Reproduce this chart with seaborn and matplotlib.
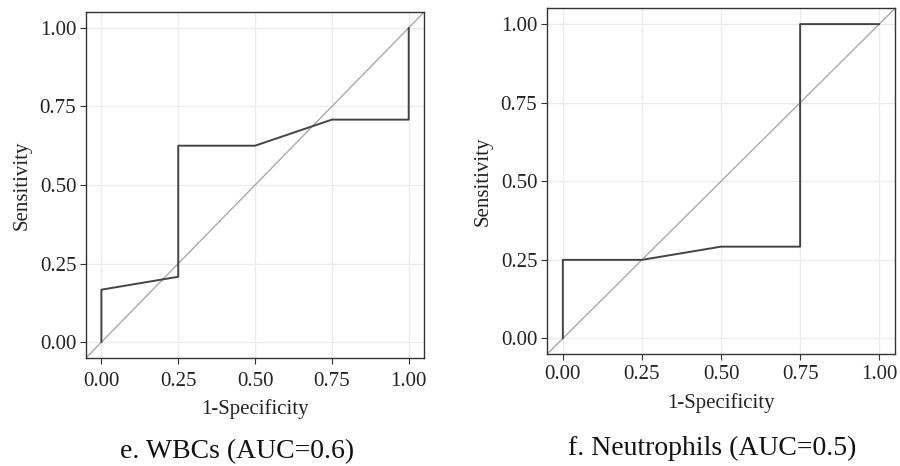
import numpy as np
import pandas as pd
import matplotlib.pyplot as plt
import seaborn as sns

# ROC curve points
wbc_fpr = [0.0, 0.0, 0.25, 0.25, 0.50, 0.75, 1.00, 1.00]
wbc_tpr = [0.0, 0.167, 0.208, 0.625, 0.625, 0.708, 0.708, 1.00]

neu_fpr = [0.0, 0.0, 0.25, 0.50, 0.75, 0.75, 1.00]
neu_tpr = [0.0, 0.25, 0.25, 0.292, 0.292, 1.00, 1.00]

ticks = [0.0, 0.25, 0.5, 0.75, 1.0]
tick_labels = ['0.00', '0.25', '0.50', '0.75', '1.00']
captions = ['e. WBCs (AUC=0.6)', 'f. Neutrophils (AUC=0.5)']

sns.set_theme(style="whitegrid")
plt.rcParams['font.family'] = ['Liberation Serif', 'DejaVu Serif']

fig = plt.figure(figsize=(9, 4.66), dpi=100)
ax1 = fig.add_axes([0.0956, 0.232, 0.3756, 0.742])
ax2 = fig.add_axes([0.6078, 0.240, 0.3867, 0.742])

panels = [(ax1, wbc_fpr, wbc_tpr, 6), (ax2, neu_fpr, neu_tpr, 4)]
for ax, fpr, tpr, pad in panels:
    df = pd.DataFrame({'fpr': fpr, 'tpr': tpr})
    lim = [-0.05, 1.05]
    ax.plot(lim, lim, color='#aaaaaa', linewidth=1.0, zorder=2)
    sns.lineplot(data=df, x='fpr', y='tpr', sort=False, estimator=None,
                 color='#444444', linewidth=1.4, ax=ax, zorder=3)
    ax.set_xlim(lim)
    ax.set_ylim(lim)
    ax.set_xticks(ticks)
    ax.set_xticklabels(tick_labels)
    ax.set_yticks(ticks)
    ax.set_yticklabels(tick_labels)
    ax.grid(True, color='#ececec', linewidth=1.0)
    for s in ax.spines.values():
        s.set_color('#333333')
        s.set_linewidth(1.0)
    ax.tick_params(axis='both', which='major', length=4, width=0.8,
                   color='#333333', labelsize=15, labelcolor='#222222',
                   direction='out', bottom=True, left=True, pad=3)
    ax.tick_params(axis='x', pad=pad)
    ax.set_xlabel('1-Specificity', fontsize=15, color='#222222', labelpad=6)
    ax.set_ylabel('Sensitivity', fontsize=15, color='#222222', labelpad=6)

fig.text(0.263, 0.030, captions[0], ha='center', va='center', fontsize=20, color='#111111')
fig.text(0.791, 0.037, captions[1], ha='center', va='center', fontsize=20, color='#111111')

fig.savefig('out.png', dpi=100, facecolor='white')
